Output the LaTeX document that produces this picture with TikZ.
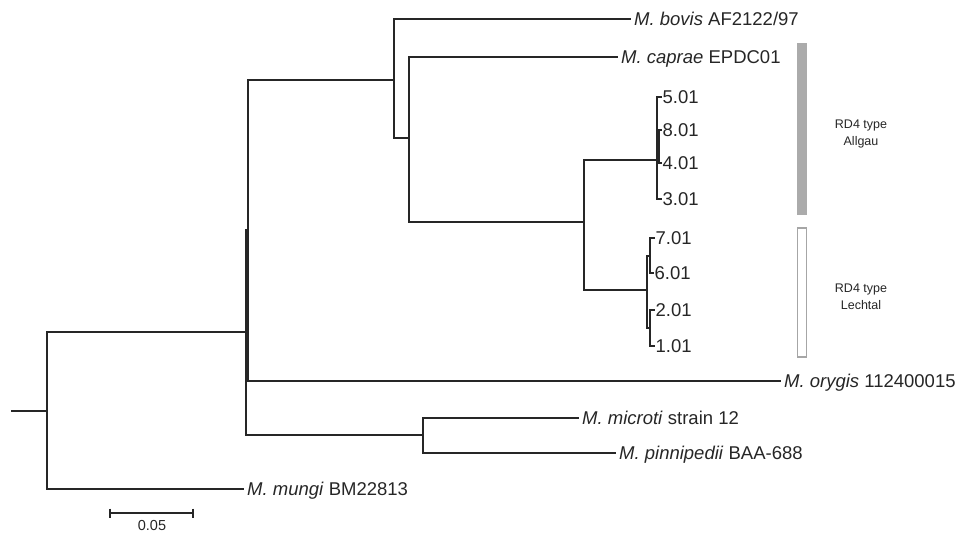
\documentclass[tikz,border=0pt]{standalone}
\usepackage{fontspec}
\setmainfont{Liberation Sans}
\begin{document}
\begin{tikzpicture}[x=1pt,y=-1pt,
  br/.style={line width=1.9pt, draw=black!85, line cap=rect},
  lab/.style={anchor=west, inner xsep=4pt, inner ysep=0pt, text height=13pt, text depth=0pt,
              font=\fontsize{18.5}{20}\selectfont, text=black!85},
  num/.style={lab, inner xsep=1.5pt},
  grp/.style={align=center, font=\fontsize{12.5}{17}\selectfont, text=black!85, inner sep=0pt}]
\useasboundingbox (0,0) rectangle (958,534);

% group bars
\fill[black!33] (797,43) rectangle (807,215);
\draw[black!35, line width=1.1pt] (797.5,228) rectangle (806.5,357);
\node[grp] (gA) at (861,134) {RD4 type\\Allgau};
\node[grp] (gL) at (861,297) {RD4 type\\Lechtal};

% internal nodes
\coordinate (r0) at (12,411);
\coordinate (r) at (47,411);
\coordinate (nA) at (246,332);
\coordinate (nB) at (248,230);
\coordinate (nBC) at (394,80);
\coordinate (nC) at (409,138);
\coordinate (nD) at (584,222);
\coordinate (nAll) at (657,160);
\coordinate (nAll2) at (659,146);
\coordinate (nLech) at (647,290);
\coordinate (nL1) at (650,256);
\coordinate (nL2) at (650,328);
\coordinate (nMic) at (423,435);

% leaf labels
\node[lab] (bovis) at (630,19) {\itshape M. bovis\/\upshape{} AF2122/97};
\node[lab] (caprae) at (617,57) {\itshape M. caprae\/\upshape{} EPDC01};
\node[lab] (orygis) at (780,381) {\itshape M. orygis\/\upshape{} 112400015};
\node[lab] (microti) at (578,418) {\itshape M. microti\/\upshape{} strain 12};
\node[lab] (pinni) at (615,453) {\itshape M. pinnipedii\/\upshape{} BAA-688};
\node[lab] (mungi) at (243,489) {\itshape M. mungi\/\upshape{} BM22813};
\node[num] (t5) at (661,97) {5.01};
\node[num] (t8) at (661,130) {8.01};
\node[num] (t4) at (661,163) {4.01};
\node[num] (t3) at (661,199) {3.01};
\node[num] (t7) at (654,238) {7.01};
\node[num] (t6) at (653,273) {6.01};
\node[num] (t2) at (654,310) {2.01};
\node[num] (t1) at (654,346) {1.01};

% branches
\draw[br] (r0) -- (r);
\draw[br] (r) |- (nA);
\draw[br] (r) |- (mungi.west);
\draw[br] (nA) |- (nB);
\draw[br] (nA) |- (nMic);
\draw[br] (nB) |- (nBC);
\draw[br] (nB) |- (orygis.west);
\draw[br] (nBC) |- (bovis.west);
\draw[br] (nBC) |- (nC);
\draw[br] (nC) |- (caprae.west);
\draw[br] (nC) |- (nD);
\draw[br] (nD) |- (nAll);
\draw[br] (nD) |- (nLech);
\draw[br] (nAll) |- (t5.west);
\draw[br] (nAll) |- (t3.west);
\draw[br] (nAll) |- (nAll2);
\draw[br] (nAll2) |- (t8.west);
\draw[br] (nAll2) |- (t4.west);
\draw[br] (nLech) |- (nL1);
\draw[br] (nLech) |- (nL2);
\draw[br] (nL1) |- (t7.west);
\draw[br] (nL1) |- (t6.west);
\draw[br] (nL2) |- (t2.west);
\draw[br] (nL2) |- (t1.west);
\draw[br] (nMic) |- (microti.west);
\draw[br] (nMic) |- (pinni.west);

% scale bar
\coordinate (s1) at (110,513);
\coordinate (s2) at (193,513);
\draw[br] (s1) -- (s2);
\draw[br, line cap=butt] ([yshift=4.5pt]s1) -- ([yshift=-4.5pt]s1);
\draw[br, line cap=butt] ([yshift=4.5pt]s2) -- ([yshift=-4.5pt]s2);
\node[font=\fontsize{14.5}{16}\selectfont, text=black!85, inner sep=0pt] (sl) at (152,526) {0.05};
\end{tikzpicture}
\end{document}
